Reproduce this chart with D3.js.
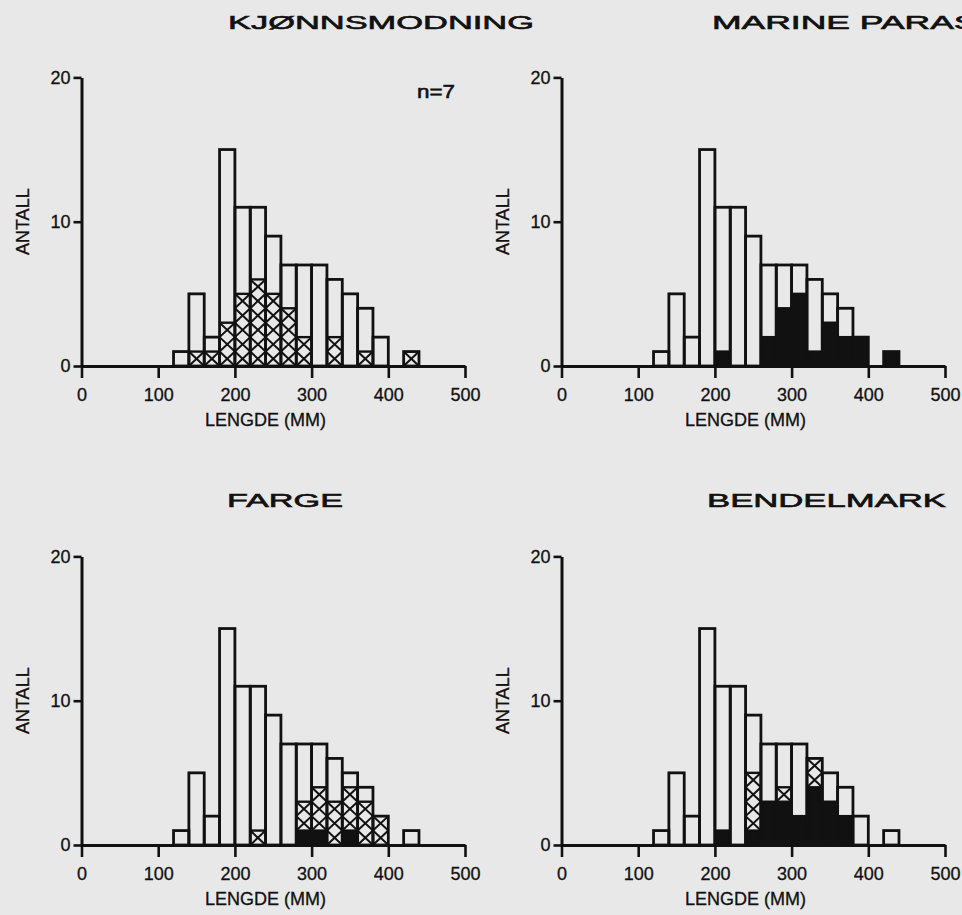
<!DOCTYPE html>
<html><head><meta charset="utf-8">
<script src="https://cdn.jsdelivr.net/npm/d3@7"></script>
<style>
body{margin:0;background:#e8e8e8;}
svg{display:block;}
text{font-family:"Liberation Sans",Arial,sans-serif;fill:#111;}
</style>
</head><body>
<script>
// ---- data ----
const binStarts = [120,140,160,180,200,220,240,260,280,300,320,340,360,380,400,420];
const binWidth = 20;
const totals   = [1,5,2,15,11,11,9,7,7,7,6,5,4,2,0,1];
const titles   = ["KJØNNSMODNING","MARINE PARASITTER","FARGE","BENDELMARK"];
// cumulative levels: black from 0..black, cross-hatched from black..hatchTop
const black1 = [0,0,0,0,0,0,0,0,0,0,0,0,0,0,0,0];
const hatch1 = [0,1,1,3,5,6,5,4,2,0,2,0,1,0,0,1];
const black2 = [0,0,0,0,1,0,0,2,4,5,1,3,2,2,0,1];
const hatch2 = [0,0,0,0,0,0,0,0,0,0,0,0,0,0,0,0];
const black3 = [0,0,0,0,0,0,0,0,1,1,0,1,0,0,0,0];
const hatch3 = [0,0,0,0,0,1,0,0,3,4,3,4,3,2,0,0];
const black4 = [0,0,0,0,1,0,1,3,3,2,4,3,2,0,0,0];
const hatch4 = [0,0,0,0,0,0,5,0,4,0,6,0,0,0,0,0];
const xTicks = [0,100,200,300,400,500];
const yTicks = [0,10,20];
const xLabel = "LENGDE (MM)";
const yLabel = "ANTALL";
const note = "n=7";

// ---- layout ----
const W = 962, H = 915;
const svg = d3.select("body").append("svg").attr("width",W).attr("height",H);
svg.append("rect").attr("width",W).attr("height",H).attr("fill","#e8e8e8");

const panels = [
  {title:titles[0], black:black1, hatch:hatch1, x0:81.5, base:366, tx:228, tlen:306, ty:29},
  {title:titles[1], black:black2, hatch:hatch2, x0:561.5, base:366, tx:712, tlen:368, ty:29},
  {title:titles[2], black:black3, hatch:hatch3, x0:81.5, base:845, tx:227, tlen:116, ty:507},
  {title:titles[3], black:black4, hatch:hatch4, x0:561.5, base:845, tx:707, tlen:239, ty:507}
];

panels.forEach((p,pi)=>{
  const x = d3.scaleLinear().domain([0,500]).range([p.x0, p.x0+383.5]);
  const y = d3.scaleLinear().domain([0,20]).range([p.base, p.base-288.6]);
  const g = svg.append("g");

  // title
  g.append("text").attr("x",p.tx).attr("y",p.ty)
    .attr("font-size",19).attr("textLength",p.tlen).attr("lengthAdjust","spacingAndGlyphs")
    .attr("stroke","#111").attr("stroke-width",0.6)
    .text(p.title);

  const bins = binStarts.map((b,i)=>({b, t:totals[i], k:p.black[i], h:p.hatch[i]})).filter(d=>d.t>0);

  // black parts
  g.selectAll(".blk").data(bins.filter(d=>d.k>0)).join("rect")
    .attr("x",d=>x(d.b)).attr("width",d=>x(d.b+binWidth)-x(d.b))
    .attr("y",d=>y(d.k)).attr("height",d=>y(0)-y(d.k))
    .attr("fill","#111");

  // cross-hatched cells
  const cells = [];
  bins.forEach(d=>{ for(let u=d.k; u<d.h; u++) cells.push({b:d.b,u}); });
  const cg = g.selectAll(".cell").data(cells).join("g");
  cg.append("line").attr("x1",d=>x(d.b)).attr("x2",d=>x(d.b+binWidth))
    .attr("y1",d=>y(d.u)).attr("y2",d=>y(d.u+1)).attr("stroke","#111").attr("stroke-width",2);
  cg.append("line").attr("x1",d=>x(d.b)).attr("x2",d=>x(d.b+binWidth))
    .attr("y1",d=>y(d.u+1)).attr("y2",d=>y(d.u)).attr("stroke","#111").attr("stroke-width",2);

  // separator lines
  bins.forEach(d=>{
    [d.k,d.h].forEach(v=>{
      if(v>0 && v<d.t){
        g.append("line").attr("x1",x(d.b)).attr("x2",x(d.b+binWidth))
          .attr("y1",y(v)).attr("y2",y(v)).attr("stroke","#111").attr("stroke-width",2.4);
      }
    });
  });

  // outlines
  g.selectAll(".bar").data(bins).join("rect")
    .attr("x",d=>x(d.b)).attr("width",d=>x(d.b+binWidth)-x(d.b))
    .attr("y",d=>y(d.t)).attr("height",d=>y(0)-y(d.t))
    .attr("fill","none").attr("stroke","#111").attr("stroke-width",2.8);

  // axes
  const xa = g.append("g").attr("transform",`translate(0,${p.base})`)
    .call(d3.axisBottom(x).tickValues(xTicks).tickSize(12).tickSizeOuter(0).tickPadding(8));
  const ya = g.append("g").attr("transform",`translate(${p.x0},0)`)
    .call(d3.axisLeft(y).tickValues(yTicks).tickSize(8).tickSizeOuter(0).tickPadding(3));
  [xa,ya].forEach(a=>{
    a.select(".domain").attr("stroke","#111").attr("stroke-width",3);
    a.selectAll(".tick line").attr("stroke","#111").attr("stroke-width",2.6);
    a.selectAll("text").attr("font-size",18).attr("fill","#111")
      .attr("stroke","#111").attr("stroke-width",0.3)
      .style("font-family","'Liberation Sans',Arial,sans-serif");
  });
  xa.selectAll("text").attr("dy","0.85em");

  // axis labels
  g.append("text").attr("x",x(240)).attr("y",p.base+60).attr("text-anchor","middle")
    .attr("font-size",18).attr("stroke","#111").attr("stroke-width",0.3).text(xLabel);
  g.append("text").attr("transform",`translate(${p.x0-53},${y(10)}) rotate(-90)`)
    .attr("text-anchor","middle").attr("font-size",18).attr("stroke","#111").attr("stroke-width",0.3).text(yLabel);

  if(pi===0){
    g.append("text").attr("x",x(440)-2).attr("y",y(18.6))
      .attr("font-size",19).attr("textLength",38).attr("lengthAdjust","spacingAndGlyphs")
      .attr("stroke","#111").attr("stroke-width",0.6).text(note);
  }
});
</script>
</body></html>
